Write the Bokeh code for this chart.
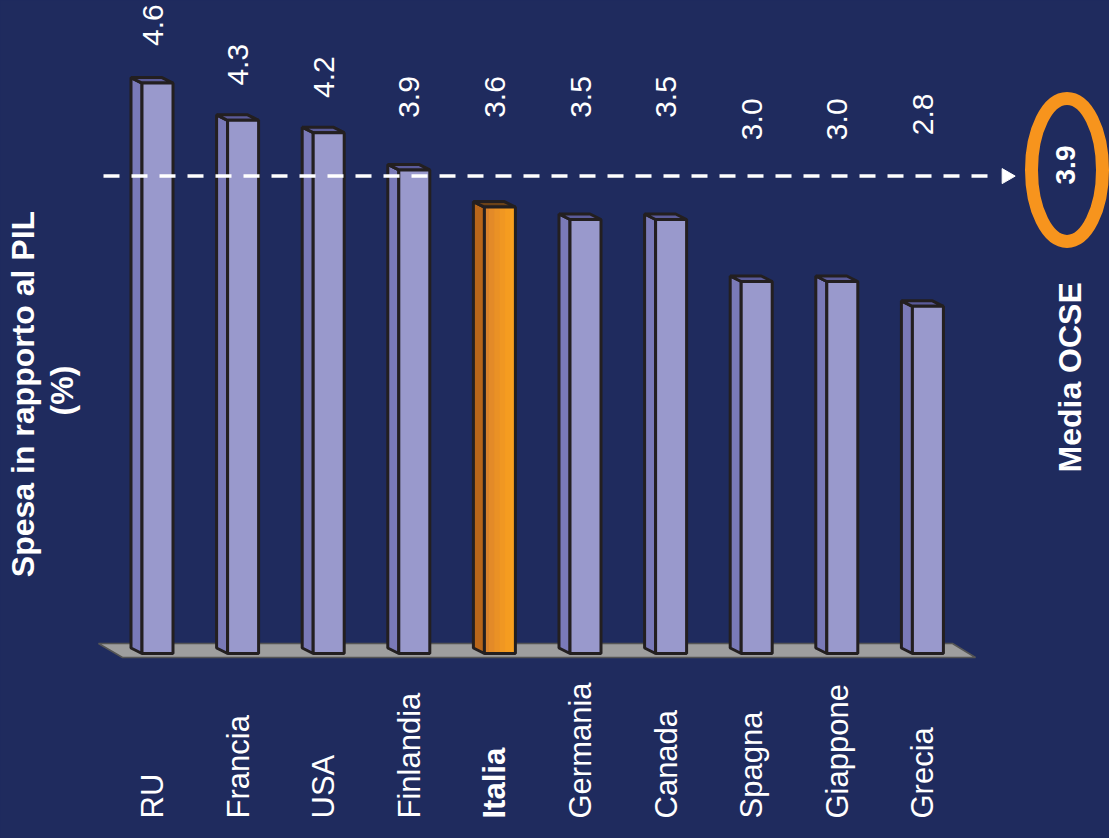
import math
from bokeh.plotting import figure
from bokeh.models import Range1d, ColumnDataSource, GlobalInlineStyleSheet
from bokeh.core.properties import value
from bokeh.embed import file_html
from bokeh.resources import INLINE

# ---------------- data ----------------
countries = ["RU", "Francia", "USA", "Finlandia", "Italia",
             "Germania", "Canada", "Spagna", "Giappone", "Grecia"]
spesa = [4.6, 4.3, 4.2, 3.9, 3.6, 3.5, 3.5, 3.0, 3.0, 2.8]
label_heights = [4.90, 4.58, 4.48, 4.32, 4.32, 4.32, 4.32, 4.14, 4.14, 4.18]
highlight = "Italia"
media_ocse = 3.9
media_label = "Media OCSE"
y_title = ["Spesa in rapporto al PIL", "(%)"]

# ---------------- layout ----------------
BG = "#1F2B5E"
W, H = 1109, 838
PX_X = 85.6     # pixels per category slot
PX_Y = 124.0    # pixels per percentage point
PAGE_X0 = 157   # page x of first bar centre
PAGE_Y0 = 653   # page y of zero line
MARGIN = 0

def dx(px):
    return px / PX_X

def dy(px):
    return px / PX_Y

def fx(page_x):
    return (page_x - PAGE_X0) / PX_X

def fy(page_y):
    return (PAGE_Y0 - page_y) / PX_Y

x_range = Range1d(fx(MARGIN), fx(MARGIN + W))
y_range = Range1d(fy(MARGIN + H), fy(MARGIN))

p = figure(width=W, height=H, x_range=x_range, y_range=y_range,
           output_backend="svg", toolbar_location=None,
           background_fill_color=BG, border_fill_color=BG,
           outline_line_color=None, min_border=0)
p.axis.visible = False
p.grid.visible = False
p.stylesheets = [GlobalInlineStyleSheet(css="body { background-color: %s; }" % BG)]

FONT = value("Liberation Sans")
OUT = "#231F20"

# floor
p.patch(x=[fx(98), fx(952), fx(975), fx(122)],
        y=[fy(643), fy(643), fy(657), fy(657)],
        fill_color="#9E9E9E", line_color="#555555", line_width=1.5)

HW = dx(15.5)
DX = dx(11)
DY = dy(5.5)

idx = list(range(len(countries)))
is_hi = [c == highlight for c in countries]
front_col = ["#F39A1F" if h else "#9999CC" for h in is_hi]
side_col = ["#B8661A" if h else "#7A7AB8" for h in is_hi]
top_col = ["#6B4218" if h else "#5B5B99" for h in is_hi]

side_xs = [[i - HW, i - HW, i - HW - DX, i - HW - DX] for i in idx]
side_ys = [[0, v, v + DY, DY] for v in spesa]
top_xs = [[i - HW, i + HW, i + HW - DX, i - HW - DX] for i in idx]
top_ys = [[v, v, v + DY, v + DY] for v in spesa]

p.patches(xs=side_xs, ys=side_ys, fill_color=side_col, line_color=OUT, line_width=3)
p.patches(xs=top_xs, ys=top_ys, fill_color=top_col, line_color=OUT, line_width=3)
p.quad(left=[i - HW for i in idx], right=[i + HW for i in idx],
       bottom=[0] * len(idx), top=spesa, fill_color=front_col, line_color=None)

# gradient on highlighted front face
grad = ["#D9822C", "#E38A28", "#EA9125", "#F09722", "#F59C20", "#F9A01E"]
for i, h, v in zip(idx, is_hi, spesa):
    if h:
        n = len(grad)
        w = 2 * HW / n
        p.quad(left=[i - HW + k * w for k in range(n)],
               right=[i - HW + (k + 1) * w for k in range(n)],
               bottom=[0] * n, top=[v] * n, fill_color=grad, line_color=None)

p.quad(left=[i - HW for i in idx], right=[i + HW for i in idx],
       bottom=[0] * len(idx), top=spesa, fill_color=None, line_color=OUT, line_width=3)

# average line + arrow head
avg_y = media_ocse - 0.05
p.segment(x0=[fx(103)], y0=[avg_y], x1=[fx(992)], y1=[avg_y],
          line_color="white", line_width=3.5, line_dash="16 12")
p.scatter(x=[fx(1006)], y=[avg_y], marker="triangle", size=15, angle=-math.pi / 2,
          fill_color="white", line_color="white")

# ellipse round the average
p.ellipse(x=[fx(1066.5)], y=[media_ocse], width=[dx(71)], height=[dy(143)],
          fill_color=None, line_color="#F7941D", line_width=13)
p.text(x=[fx(1065)], y=[fy(164.5)], text=["%.1f" % media_ocse], angle=math.pi / 2,
       text_align="center", text_baseline="middle", text_color="white",
       text_font=FONT, text_font_style="bold", text_font_size="28px")
p.text(x=[fx(1069)], y=[fy(472)], text=[media_label], angle=math.pi / 2,
       text_align="left", text_baseline="middle", text_color="white",
       text_font=FONT, text_font_style="bold", text_font_size="32px")

# value labels
p.text(x=[i - dx(5) for i in idx], y=label_heights, text=["%.1f" % v for v in spesa],
       angle=math.pi / 2, text_align="left", text_baseline="middle",
       text_color="white", text_font=FONT, text_font_size="30px")

# category labels
cat_src = ColumnDataSource(dict(
    x=[i - dx(5) for i in idx], y=[fy(818)] * len(idx), text=countries,
    style=["bold" if h else "normal" for h in is_hi]))
p.text(x="x", y="y", text="text", source=cat_src, angle=math.pi / 2,
       text_align="left", text_baseline="middle", text_color="white",
       text_font=FONT, text_font_size="31px", text_font_style="style")

# y title
p.text(x=[fx(22.5)], y=[fy(393.5)], text=[y_title[0]], angle=math.pi / 2,
       text_align="center", text_baseline="middle", text_color="white",
       text_font=FONT, text_font_style="bold", text_font_size="32px")
p.text(x=[fx(61)], y=[fy(390)], text=[y_title[1]], angle=math.pi / 2,
       text_align="center", text_baseline="middle", text_color="white",
       text_font=FONT, text_font_style="bold", text_font_size="32px")

open("out.html", "w").write(file_html(p, INLINE))
